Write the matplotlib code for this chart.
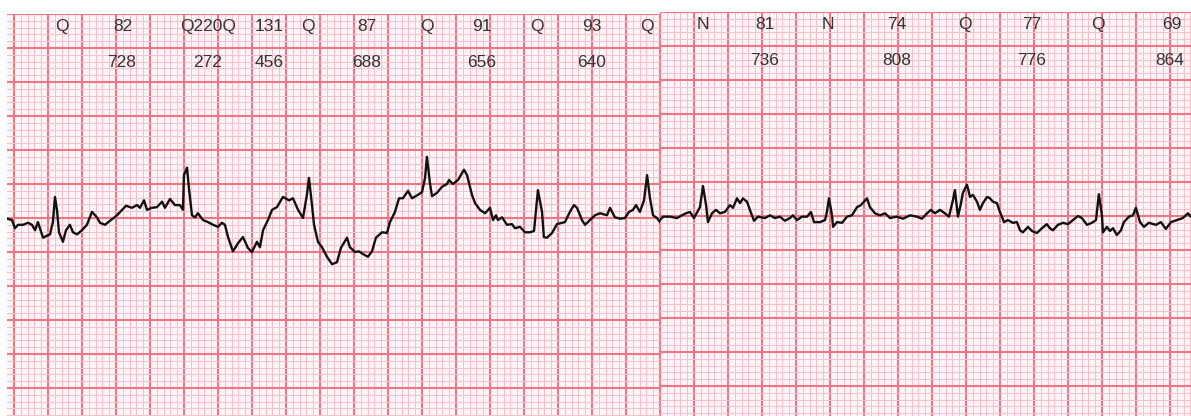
import numpy as np
import matplotlib
matplotlib.use("Agg")
import matplotlib.pyplot as plt

# ---- ECG trace, left strip (time in ms, amplitude in mV) ----
t_left = [-41, -12, 6, 24, 53, 82, 106, 124, 141, 171, 194, 212, 229, 241, 253, 265, 288, 306, 329, 347,
          371, 400, 429, 459, 488, 506, 535, 565, 606, 659, 694, 724, 741, 765, 782, 812, 841, 871, 888, 918,
          947, 976, 994, 1000, 1018, 1029, 1047, 1065, 1082, 1112, 1141, 1171, 1200, 1223, 1241, 1259, 1288,
          1318, 1347, 1376, 1400, 1429, 1447, 1465, 1494, 1518, 1547, 1582, 1618, 1641, 1671, 1700, 1723,
          1735, 1753, 1765, 1788, 1812, 1841, 1871, 1900, 1923, 1959, 1976, 2006, 2029, 2053, 2082, 2106,
          2129, 2165, 2194, 2212, 2241, 2265, 2288, 2318, 2341, 2376, 2400, 2418, 2429, 2447, 2459, 2488,
          2518, 2547, 2559, 2582, 2612, 2635, 2647, 2665, 2694, 2712, 2741, 2771, 2800, 2818, 2835, 2847,
          2871, 2900, 2929, 2947, 2976, 3006, 3035, 3059, 3082, 3106, 3117, 3135, 3165, 3194, 3241, 3270,
          3294, 3312, 3341, 3359, 3388, 3418, 3447, 3488, 3506, 3535, 3565, 3594, 3618, 3641, 3659, 3682,
          3706, 3724, 3741, 3759, 3782, 3800]
v_left = [-0.01, -0.03, -0.15, -0.10, -0.10, -0.07, -0.10, -0.18, -0.06, -0.29, -0.26, -0.24, -0.06, 0.31,
          0.12, -0.21, -0.35, -0.18, -0.10, -0.21, -0.24, -0.18, -0.10, 0.09, 0.01, -0.07, -0.10, -0.04, 0.04,
          0.18, 0.15, 0.19, 0.15, 0.26, 0.12, 0.15, 0.16, 0.24, 0.15, 0.28, 0.19, 0.19, 0.12, 0.63, 0.74, 0.44,
          0.04, 0.01, 0.07, -0.03, -0.06, -0.10, -0.13, -0.07, -0.10, -0.28, -0.49, -0.37, -0.28, -0.44, -0.50,
          -0.35, -0.43, -0.18, -0.03, 0.12, 0.16, 0.31, 0.26, 0.29, 0.12, 0.00, 0.34, 0.59, 0.19, -0.10, -0.35,
          -0.43, -0.57, -0.68, -0.65, -0.44, -0.29, -0.43, -0.50, -0.49, -0.53, -0.57, -0.49, -0.29, -0.21,
          -0.22, -0.06, 0.09, 0.29, 0.29, 0.40, 0.29, 0.34, 0.38, 0.59, 0.90, 0.51, 0.32, 0.37, 0.46, 0.50,
          0.56, 0.50, 0.56, 0.66, 0.71, 0.63, 0.34, 0.22, 0.12, 0.07, 0.15, -0.03, 0.04, -0.03, 0.01, -0.10,
          -0.09, -0.15, -0.13, -0.21, -0.21, -0.19, 0.41, 0.09, -0.28, -0.29, -0.22, -0.09, -0.06, 0.09, 0.19,
          0.15, -0.03, -0.10, -0.03, 0.04, 0.07, 0.04, 0.15, 0.01, -0.01, 0.00, 0.09, 0.12, 0.19, 0.09, 0.26,
          0.63, 0.29, 0.04, 0.00, -0.06]

# ---- ECG trace, right strip ----
t_right = [3800, 3818, 3859, 3900, 3929, 3953, 3976, 4000, 4035, 4053, 4071, 4082, 4106, 4129, 4153, 4182,
           4212, 4229, 4253, 4271, 4288, 4312, 4329, 4353, 4376, 4418, 4447, 4476, 4506, 4535, 4565, 4582,
           4606, 4635, 4665, 4688, 4706, 4741, 4771, 4782, 4794, 4812, 4818, 4841, 4871, 4900, 4929, 4959,
           4982, 5000, 5018, 5035, 5065, 5094, 5124, 5153, 5194, 5229, 5271, 5312, 5341, 5371, 5394, 5418,
           5447, 5476, 5500, 5524, 5535, 5553, 5571, 5582, 5606, 5624, 5641, 5665, 5682, 5700, 5724, 5741,
           5759, 5782, 5800, 5824, 5847, 5876, 5900, 5918, 5935, 5965, 5988, 6018, 6047, 6076, 6094, 6112,
           6141, 6171, 6200, 6229, 6259, 6282, 6312, 6341, 6365, 6382, 6400, 6406, 6429, 6447, 6465, 6488,
           6512, 6529, 6559, 6582, 6600, 6624, 6647, 6676, 6718, 6747, 6776, 6806, 6841, 6876, 6906, 6924]
v_right = [-0.06, -0.01, -0.01, -0.03, 0.01, 0.04, 0.06, -0.03, 0.13, 0.44, 0.16, -0.09, 0.04, 0.09, 0.04,
           0.06, 0.16, 0.12, 0.26, 0.19, 0.26, 0.21, 0.09, -0.07, -0.01, -0.03, 0.01, -0.03, -0.01, -0.07,
           -0.03, 0.01, -0.06, -0.01, -0.01, 0.06, -0.09, -0.09, -0.06, 0.06, 0.26, 0.01, -0.16, -0.09, -0.10,
           -0.01, 0.01, 0.13, 0.16, 0.21, 0.26, 0.13, 0.04, 0.01, 0.04, -0.03, -0.01, -0.04, 0.01, -0.01, -0.04,
           0.04, 0.09, 0.04, 0.09, 0.04, -0.01, 0.24, 0.38, -0.01, 0.19, 0.34, 0.46, 0.28, 0.31, 0.21, 0.09,
           0.19, 0.28, 0.26, 0.21, 0.19, 0.06, -0.09, -0.06, -0.10, -0.09, -0.21, -0.24, -0.16, -0.22, -0.25,
           -0.18, -0.12, -0.18, -0.21, -0.13, -0.10, -0.12, -0.06, 0.00, -0.03, -0.13, -0.10, -0.06, 0.32,
           0.01, -0.24, -0.16, -0.22, -0.18, -0.28, -0.21, -0.09, -0.01, 0.01, 0.12, -0.09, -0.16, -0.10,
           -0.13, -0.09, -0.19, -0.09, -0.06, -0.03, 0.04, -0.01]

# ---- beat annotations (time in ms) ----
beat_labels = ["Q", "82", "Q220Q", "131", "Q", "87", "Q", "91", "Q", "93", "Q",
               "N", "81", "N", "74", "Q", "77", "Q", "69"]
beat_t = [282, 641, 1141, 1500, 1729, 2076, 2429, 2753, 3076, 3400, 3723,
          4053, 4418, 4788, 5194, 5594, 5988, 6376, 6812]
rr_labels = ["728", "272", "456", "688", "656", "640", "736", "808", "776", "864"]
rr_t = [635, 1141, 1500, 2076, 2753, 3400, 4418, 5194, 5988, 6800]

BG = "#FFF5F7"
MINOR = "#F7C0CA"
MAJOR = "#F07585"

W, H = 1191, 416
fig = plt.figure(figsize=(W / 100, H / 100), dpi=100)
fig.patch.set_facecolor("white")

def make_panel(rect, xlim, ylim):
    ax = fig.add_axes(rect)
    ax.set_facecolor(BG)
    ax.set_xticks(np.arange(0, 7001, 200))
    ax.set_xticks(np.arange(0, 7001, 40), minor=True)
    ax.set_yticks(np.arange(-3.0, 3.01, 0.5))
    ax.set_yticks(np.arange(-3.0, 3.01, 0.1), minor=True)
    ax.grid(which="minor", color=MINOR, lw=0.75)
    ax.grid(which="major", color=MAJOR, lw=1.5)
    ax.set_axisbelow(True)
    ax.tick_params(which="both", length=0, labelbottom=False, labelleft=False)
    for s in ax.spines.values():
        s.set_visible(False)
    ax.set_xlim(*xlim)
    ax.set_ylim(*ylim)
    return ax

left_px, split_px = 7, 660
axL = make_panel([left_px / W, 0, (split_px - left_px) / W, (H - 14) / H],
                 (-41, 3800), (3.0 - (H - 14) / 68, 3.0))
axR = make_panel([split_px / W, 0, (W - split_px) / W, (H - 12) / H],
                 (3800, 6924), (3.0 - (H - 12) / 68, 3.0))

axL.plot(t_left, v_left, color="#111111", lw=1.7, solid_joinstyle="round", zorder=3)
axR.plot(t_right, v_right, color="#111111", lw=1.7, solid_joinstyle="round", zorder=3)

font = dict(family=["Liberation Sans", "DejaVu Sans"], fontsize=12.5, color="#333333",
            ha="center", va="center", zorder=4)
for lab, t in zip(beat_labels, beat_t):
    ax = axL if t < 3800 else axR
    ax.text(t, 2.81, lab, **font)
for lab, t in zip(rr_labels, rr_t):
    ax = axL if t < 3800 else axR
    ax.text(t, 2.29, lab, **font)

fig.savefig("out.png", dpi=100, facecolor="white")
